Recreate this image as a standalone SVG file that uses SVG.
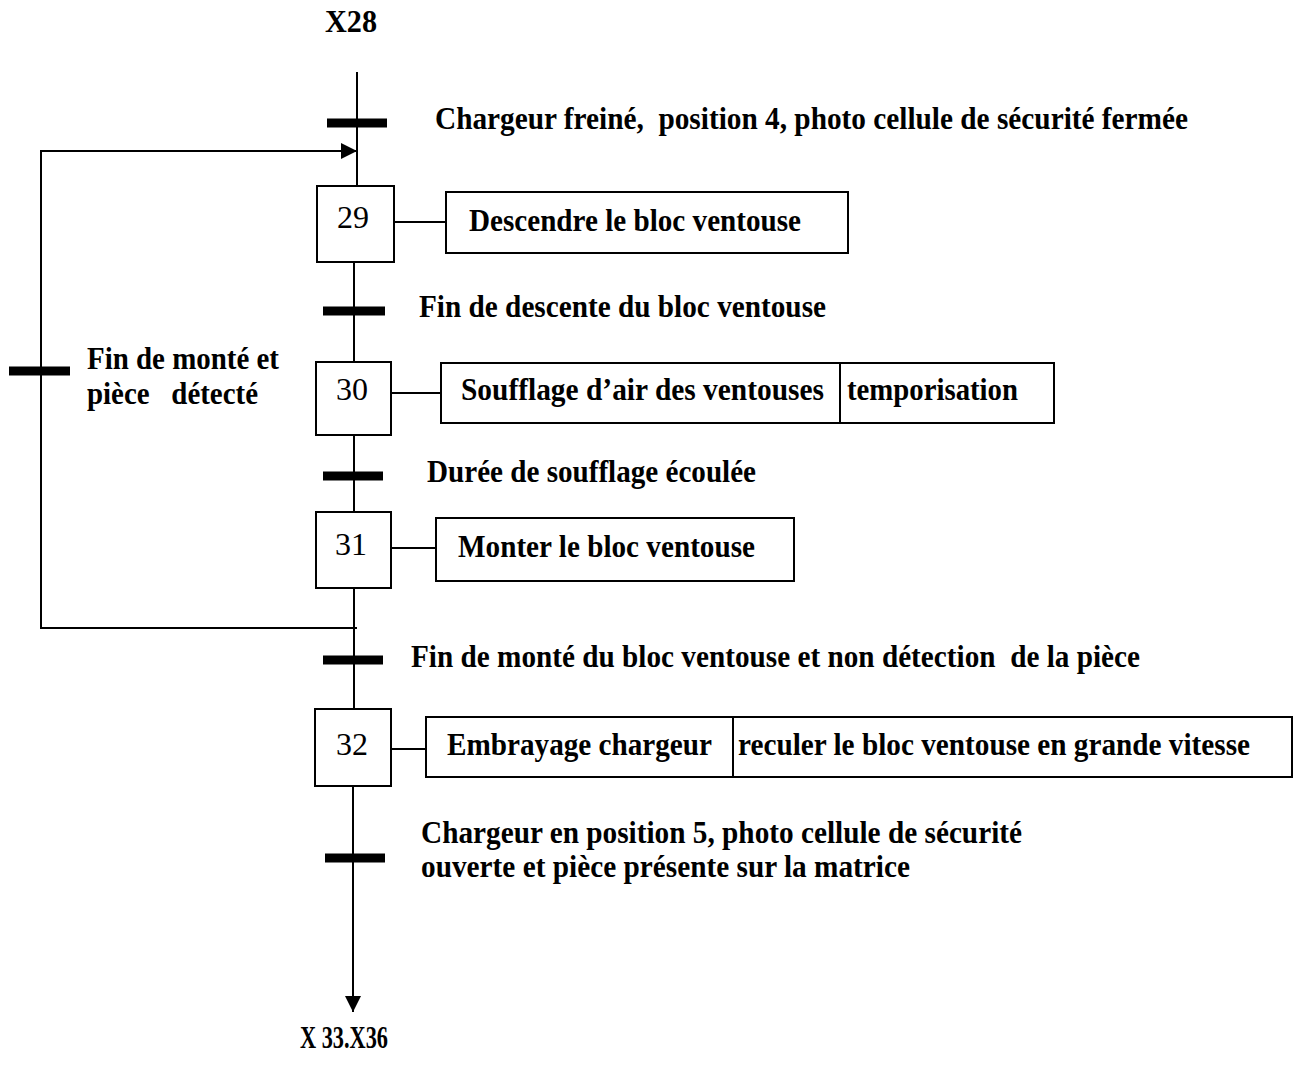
<svg xmlns="http://www.w3.org/2000/svg" width="1302" height="1065" viewBox="0 0 1302 1065">
  <style>
    .ln { stroke: #000; stroke-width: 2; fill: none; }
    .box { stroke: #000; stroke-width: 2; fill: #fff; }
    .bar { stroke: #000; stroke-width: 9; }
    .lbl { font-family: "Liberation Serif", "Times New Roman", serif; font-weight: bold; font-size: 31px; fill: #000; white-space: pre; }
    .num { font-family: "Liberation Serif", "Times New Roman", serif; font-size: 32px; fill: #000; }
  </style>
  <defs>
    <marker id="arr" viewBox="0 0 10 10" refX="10" refY="5" markerWidth="16" markerHeight="16" markerUnits="userSpaceOnUse" orient="auto">
      <path d="M0,0 L10,5 L0,10 Z" fill="#000"/>
    </marker>
  </defs>

  <!-- links, transitions and loop-back -->
  <g id="connectors">
    <line class="ln" x1="357" y1="72" x2="357" y2="186"/>
    <line class="ln" x1="354" y1="262" x2="354" y2="362"/>
    <line class="ln" x1="354" y1="435" x2="354" y2="512"/>
    <line class="ln" x1="354" y1="588" x2="354" y2="709"/>
    <line class="ln" x1="353" y1="786" x2="353" y2="1012" marker-end="url(#arr)"/>
    <polyline class="ln" points="357,628 41,628 41,151 357,151" marker-end="url(#arr)"/>
    <line class="ln" x1="393" y1="222" x2="446" y2="222"/>
    <line class="ln" x1="391" y1="393" x2="441" y2="393"/>
    <line class="ln" x1="391" y1="548" x2="436" y2="548"/>
    <line class="ln" x1="391" y1="749" x2="426" y2="749"/>
    <line class="bar" x1="327" y1="123" x2="387" y2="123"/>
    <line class="bar" x1="323" y1="311" x2="385" y2="311"/>
    <line class="bar" x1="323" y1="476" x2="383" y2="476"/>
    <line class="bar" x1="323" y1="660" x2="383" y2="660"/>
    <line class="bar" x1="325" y1="858" x2="385" y2="858"/>
    <line class="bar" x1="9" y1="371" x2="70" y2="371"/>
  </g>

  <g id="labels">
    <text class="lbl" x="325" y="32" textLength="52" lengthAdjust="spacingAndGlyphs">X28</text>
    <text class="lbl" x="435" y="129" textLength="753" lengthAdjust="spacingAndGlyphs">Chargeur freiné,  position 4, photo cellule de sécurité fermée</text>
    <text class="lbl" x="419" y="317" textLength="407" lengthAdjust="spacingAndGlyphs">Fin de descente du bloc ventouse</text>
    <text class="lbl" x="87" y="369" textLength="192" lengthAdjust="spacingAndGlyphs">Fin de monté et</text>
    <text class="lbl" x="87" y="404" textLength="171" lengthAdjust="spacingAndGlyphs">pièce   détecté</text>
    <text class="lbl" x="427" y="482" textLength="329" lengthAdjust="spacingAndGlyphs">Durée de soufflage écoulée</text>
    <text class="lbl" x="411" y="667" textLength="729" lengthAdjust="spacingAndGlyphs">Fin de monté du bloc ventouse et non détection  de la pièce</text>
    <text class="lbl" x="421" y="843" textLength="601" lengthAdjust="spacingAndGlyphs">Chargeur en position 5, photo cellule de sécurité</text>
    <text class="lbl" x="421" y="877" textLength="489" lengthAdjust="spacingAndGlyphs">ouverte et pièce présente sur la matrice</text>
    <text class="lbl" x="300" y="1048" textLength="88" lengthAdjust="spacingAndGlyphs">X 33.X36</text>
  </g>

  <g id="step29">
    <rect class="box" x="317" y="186" width="77" height="76"/>
    <text class="num" x="337" y="228">29</text>
  </g>
  <g id="action29">
    <rect class="box" x="446" y="192" width="402" height="61"/>
    <text class="lbl" x="469" y="231" textLength="332" lengthAdjust="spacingAndGlyphs">Descendre le bloc ventouse</text>
  </g>

  <g id="step30">
    <rect class="box" x="316" y="362" width="75" height="73"/>
    <text class="num" x="336" y="400">30</text>
  </g>
  <g id="action30">
    <rect class="box" x="441" y="363" width="613" height="60"/>
    <line class="ln" x1="840" y1="363" x2="840" y2="423"/>
    <text class="lbl" x="461" y="400" textLength="363" lengthAdjust="spacingAndGlyphs">Soufflage d’air des ventouses</text>
    <text class="lbl" x="847" y="400" textLength="171" lengthAdjust="spacingAndGlyphs">temporisation</text>
  </g>

  <g id="step31">
    <rect class="box" x="316" y="512" width="75" height="76"/>
    <text class="num" x="335" y="555">31</text>
  </g>
  <g id="action31">
    <rect class="box" x="436" y="518" width="358" height="63"/>
    <text class="lbl" x="458" y="557" textLength="297" lengthAdjust="spacingAndGlyphs">Monter le bloc ventouse</text>
  </g>

  <g id="step32">
    <rect class="box" x="315" y="709" width="76" height="77"/>
    <text class="num" x="336" y="755">32</text>
  </g>
  <g id="action32">
    <rect class="box" x="426" y="717" width="866" height="60"/>
    <line class="ln" x1="733" y1="717" x2="733" y2="777"/>
    <text class="lbl" x="447" y="755" textLength="265" lengthAdjust="spacingAndGlyphs">Embrayage chargeur</text>
    <text class="lbl" x="738" y="755" textLength="512" lengthAdjust="spacingAndGlyphs">reculer le bloc ventouse en grande vitesse</text>
  </g>
</svg>
